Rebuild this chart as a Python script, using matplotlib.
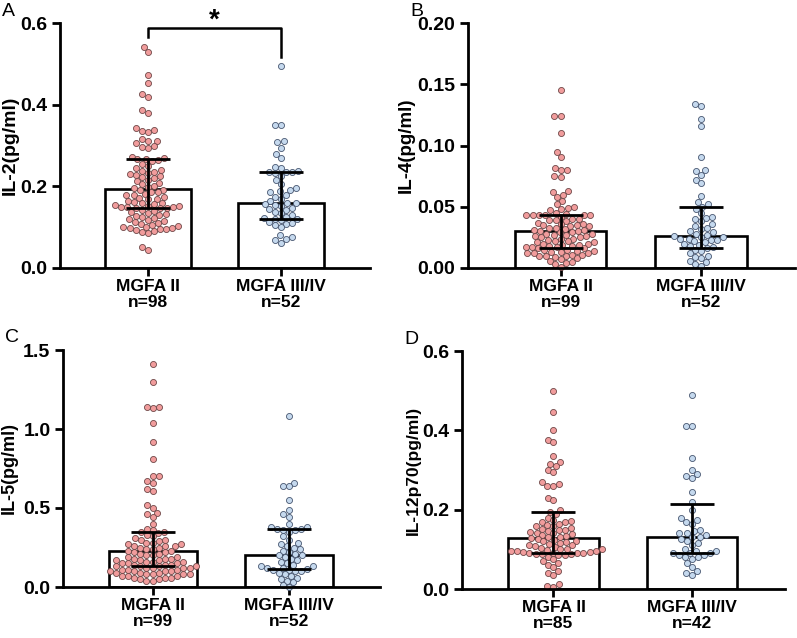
import numpy as np
import matplotlib
matplotlib.use("Agg")
import matplotlib.pyplot as plt

plt.rcParams['font.family'] = ['Liberation Sans', 'DejaVu Sans']

groups = ["MGFA II", "MGFA III/IV"]

# Panel A: IL-2
a_ii = [0.541, 0.529, 0.472, 0.452, 0.426, 0.420, 0.386, 0.380, 0.342, 0.338, 0.336, 0.332, 0.315, 0.312,
        0.310, 0.305, 0.298, 0.296, 0.294, 0.272, 0.270, 0.268, 0.266, 0.264, 0.262, 0.255, 0.250, 0.245,
        0.240, 0.238, 0.236, 0.232, 0.230, 0.228, 0.225, 0.222, 0.220, 0.215, 0.212, 0.208, 0.205, 0.200,
        0.198, 0.195, 0.192, 0.190, 0.186, 0.185, 0.182, 0.180, 0.178, 0.175, 0.172, 0.170, 0.168, 0.165,
        0.162, 0.160, 0.158, 0.156, 0.155, 0.153, 0.152, 0.150, 0.150, 0.149, 0.148, 0.147, 0.146, 0.142,
        0.140, 0.138, 0.135, 0.132, 0.130, 0.128, 0.125, 0.122, 0.120, 0.118, 0.115, 0.112, 0.110, 0.108,
        0.105, 0.102, 0.100, 0.100, 0.098, 0.097, 0.096, 0.095, 0.093, 0.090, 0.088, 0.085, 0.052, 0.045]
a_iii = [0.495, 0.350, 0.350, 0.312, 0.308, 0.295, 0.280, 0.270, 0.248, 0.245, 0.238, 0.236, 0.235, 0.234,
         0.232, 0.225, 0.215, 0.205, 0.195, 0.192, 0.188, 0.185, 0.180, 0.175, 0.170, 0.165, 0.160, 0.158,
         0.156, 0.155, 0.152, 0.148, 0.145, 0.142, 0.138, 0.135, 0.130, 0.125, 0.122, 0.121, 0.120, 0.118,
         0.112, 0.110, 0.108, 0.105, 0.100, 0.080, 0.075, 0.072, 0.068, 0.062]
a_bar = [0.193, 0.160]
a_lo = [0.148, 0.121]
a_hi = [0.267, 0.234]
a_n = [98, 52]

# Panel B: IL-4
b_ii = [0.145, 0.124, 0.124, 0.110, 0.095, 0.091, 0.082, 0.080, 0.080, 0.075, 0.074, 0.063, 0.062, 0.060,
        0.058, 0.055, 0.052, 0.050, 0.049, 0.048, 0.047, 0.045, 0.044, 0.043, 0.043, 0.043, 0.043, 0.043,
        0.043, 0.042, 0.040, 0.040, 0.039, 0.038, 0.037, 0.036, 0.035, 0.035, 0.034, 0.033, 0.032, 0.031,
        0.030, 0.030, 0.029, 0.029, 0.028, 0.028, 0.027, 0.026, 0.025, 0.025, 0.024, 0.023, 0.022, 0.021,
        0.020, 0.020, 0.019, 0.018, 0.017, 0.017, 0.016, 0.016, 0.015, 0.015, 0.014, 0.013, 0.012, 0.012,
        0.011, 0.010, 0.010, 0.009, 0.008, 0.007, 0.006, 0.005, 0.004, 0.003, 0.001, 0.036, 0.033, 0.031,
        0.027, 0.024, 0.022, 0.019, 0.018, 0.014, 0.013, 0.011, 0.010, 0.039, 0.034, 0.026, 0.021, 0.017,
        0.012]
b_iii = [0.134, 0.132, 0.122, 0.116, 0.091, 0.080, 0.079, 0.076, 0.072, 0.069, 0.059, 0.054, 0.052, 0.050,
         0.048, 0.045, 0.042, 0.041, 0.040, 0.038, 0.036, 0.034, 0.033, 0.032, 0.030, 0.029, 0.028, 0.027,
         0.026, 0.025, 0.025, 0.024, 0.024, 0.023, 0.023, 0.022, 0.021, 0.020, 0.019, 0.018, 0.017, 0.016,
         0.015, 0.014, 0.012, 0.010, 0.009, 0.008, 0.006, 0.005, 0.003, 0.002]
b_bar = [0.030, 0.026]
b_lo = [0.016, 0.016]
b_hi = [0.043, 0.050]
b_n = [99, 52]

# Panel C: IL-5
c_ii = [1.41, 1.30, 1.14, 1.13, 1.14, 1.04, 0.92, 0.81, 0.70, 0.70, 0.67, 0.66, 0.62, 0.61, 0.52, 0.50,
        0.47, 0.46, 0.44, 0.40, 0.37, 0.36, 0.35, 0.35, 0.34, 0.33, 0.32, 0.31, 0.30, 0.30, 0.29, 0.28,
        0.28, 0.27, 0.27, 0.26, 0.26, 0.26, 0.25, 0.25, 0.24, 0.24, 0.23, 0.23, 0.22, 0.22, 0.21, 0.21,
        0.20, 0.20, 0.19, 0.19, 0.18, 0.18, 0.17, 0.17, 0.17, 0.16, 0.16, 0.15, 0.15, 0.15, 0.14, 0.14,
        0.14, 0.13, 0.13, 0.13, 0.12, 0.12, 0.12, 0.11, 0.11, 0.11, 0.10, 0.10, 0.10, 0.09, 0.09, 0.09,
        0.08, 0.08, 0.08, 0.07, 0.07, 0.07, 0.06, 0.06, 0.06, 0.05, 0.05, 0.04, 0.04, 0.18, 0.16, 0.13,
        0.12, 0.10, 0.08]
c_iii = [1.08, 0.66, 0.64, 0.64, 0.55, 0.49, 0.46, 0.44, 0.40, 0.38, 0.38, 0.37, 0.37, 0.36, 0.36, 0.35,
         0.32, 0.30, 0.28, 0.27, 0.26, 0.25, 0.24, 0.23, 0.22, 0.21, 0.20, 0.20, 0.19, 0.18, 0.17, 0.16,
         0.15, 0.14, 0.13, 0.13, 0.12, 0.12, 0.115, 0.11, 0.11, 0.10, 0.10, 0.09, 0.08, 0.07, 0.06, 0.05,
         0.04, 0.03, 0.01, 0.00]
c_bar = [0.225, 0.200]
c_lo = [0.130, 0.115]
c_hi = [0.350, 0.365]
c_n = [99, 52]

# Panel D: IL-12p70
d_ii = [0.500, 0.445, 0.400, 0.375, 0.370, 0.335, 0.320, 0.315, 0.310, 0.300, 0.295, 0.270, 0.265, 0.260,
        0.260, 0.230, 0.225, 0.200, 0.195, 0.190, 0.180, 0.175, 0.172, 0.170, 0.168, 0.165, 0.162, 0.160,
        0.158, 0.155, 0.152, 0.150, 0.148, 0.146, 0.144, 0.142, 0.140, 0.138, 0.136, 0.134, 0.132, 0.130,
        0.128, 0.126, 0.124, 0.122, 0.120, 0.118, 0.116, 0.114, 0.112, 0.110, 0.108, 0.106, 0.104, 0.102,
        0.100, 0.100, 0.098, 0.097, 0.096, 0.095, 0.094, 0.093, 0.092, 0.091, 0.090, 0.090, 0.089, 0.088,
        0.087, 0.086, 0.085, 0.080, 0.075, 0.070, 0.065, 0.060, 0.055, 0.045, 0.040, 0.035, 0.012, 0.008,
        0.004]
d_iii = [0.490, 0.410, 0.410, 0.330, 0.300, 0.290, 0.285, 0.280, 0.245, 0.220, 0.200, 0.180, 0.175, 0.170,
         0.165, 0.150, 0.145, 0.140, 0.140, 0.135, 0.130, 0.130, 0.125, 0.120, 0.115, 0.110, 0.100, 0.095,
         0.095, 0.090, 0.090, 0.090, 0.085, 0.085, 0.080, 0.080, 0.075, 0.065, 0.055, 0.045, 0.040, 0.035]
d_bar = [0.128, 0.130]
d_lo = [0.090, 0.090]
d_hi = [0.195, 0.215]
d_n = [85, 42]

W, H = 797, 638
DPI = 100
fig = plt.figure(figsize=(W / DPI, H / DPI), dpi=DPI)

RED_FILL, RED_EDGE = "#F19C9C", "#6E4747"
BLUE_FILL, BLUE_EDGE = "#C5D9EE", "#475670"

XL = (-0.66, 1.67)
DOT = 6.3  # px


def swarm(vals, ypx_per_unit, xpx_per_unit):
    vals = np.asarray(vals, float)
    order = np.argsort(vals)
    ys = vals[order] * ypx_per_unit
    placed = []
    xs = np.zeros(len(vals))
    for i, y in zip(order, ys):
        intervals = []
        for (px, py) in placed:
            dy = abs(py - y)
            if dy < DOT:
                dx = np.sqrt(DOT ** 2 - dy ** 2)
                intervals.append((px - dx, px + dx))
        cands = [0.0] + [e for iv in intervals for e in iv]
        cands.sort(key=lambda c: (abs(c), c))
        chosen = 0.0
        for c in cands:
            if all(not (lo + 1e-6 < c < hi - 1e-6) for lo, hi in intervals):
                chosen = c
                break
        placed.append((chosen, y))
        xs[i] = chosen
    return xs / xpx_per_unit


def panel(rect_px, letter, ylabel, ylsize, ylx, ymax, yticks, yfmt, d1, d2, bars, lo, hi, ns, sig=False):
    l, r, t, b = rect_px
    ax = fig.add_axes([l / W, 1 - b / H, (r - l) / W, (b - t) / H])
    ax.set_xlim(*XL)
    ax.set_ylim(0, ymax)
    ypu = (b - t) / ymax
    xpu = (r - l) / (XL[1] - XL[0])
    x = np.arange(2)
    ax.bar(x, bars, width=0.65, color="white", edgecolor="black", linewidth=1.9, zorder=1)
    for i, (vals, fc, ec) in enumerate([(d1, RED_FILL, RED_EDGE), (d2, BLUE_FILL, BLUE_EDGE)]):
        offs = swarm(vals, ypu, xpu)
        ax.scatter(i + offs, vals, s=19, facecolor=fc, edgecolor=ec, linewidth=0.6, zorder=2,
                   clip_on=False)
    ax.errorbar(x, bars, yerr=[np.array(bars) - np.array(lo), np.array(hi) - np.array(bars)],
                fmt="none", ecolor="black", elinewidth=2.0, capsize=16, capthick=2.0, zorder=3)
    for s in ["top", "right"]:
        ax.spines[s].set_visible(False)
    for s in ["left", "bottom"]:
        ax.spines[s].set_linewidth(2.0)
    ax.set_yticks(yticks)
    ax.set_yticklabels([yfmt.format(v) for v in yticks], fontsize=14, fontweight="bold")
    ax.set_xticks(x)
    ax.set_xticklabels([f"{g}\nn={n}" for g, n in zip(groups, ns)], fontsize=12.5, fontweight="bold",
                       linespacing=1.1)
    ax.tick_params(axis="both", width=2.0, length=6, direction="out")
    ax.tick_params(axis="x", pad=2)
    ax.tick_params(axis="y", pad=3)
    ax.set_ylabel(ylabel, fontsize=ylsize, fontweight="bold")
    ax.yaxis.set_label_coords((ylx - l) / (r - l), 0.5)
    fig.text((l - 58) / W, 1 - (t - 12) / H, letter, fontsize=14, ha="left", va="center")
    if sig:
        yt = 0.588
        ax.plot([0, 0, 1, 1], [0.565, yt, yt, 0.517], color="black", lw=1.8, clip_on=False, zorder=4)
        ax.text(0.5, 0.607, "*", ha="center", va="center", fontsize=20, fontweight="bold")
    return ax


panel((60, 370, 23, 268), "A", "IL-2(pg/ml)", 14, 19, 0.6, [0.0, 0.2, 0.4, 0.6], "{:.1f}",
      a_ii, a_iii, a_bar, a_lo, a_hi, a_n, sig=True)
panel((468, 795, 23, 268), "B", "IL-4(pg/ml)", 13.5, 415, 0.2, [0.0, 0.05, 0.10, 0.15, 0.20], "{:.2f}",
      b_ii, b_iii, b_bar, b_lo, b_hi, b_n)
panel((63, 380, 350, 587), "C", "IL-5(pg/ml)", 13, 18, 1.5, [0.0, 0.5, 1.0, 1.5], "{:.1f}",
      c_ii, c_iii, c_bar, c_lo, c_hi, c_n)
panel((462, 785, 351, 589), "D", "IL-12p70(pg/ml)", 12.5, 421, 0.6, [0.0, 0.2, 0.4, 0.6], "{:.1f}",
      d_ii, d_iii, d_bar, d_lo, d_hi, d_n)

fig.savefig("out.png", dpi=DPI)
